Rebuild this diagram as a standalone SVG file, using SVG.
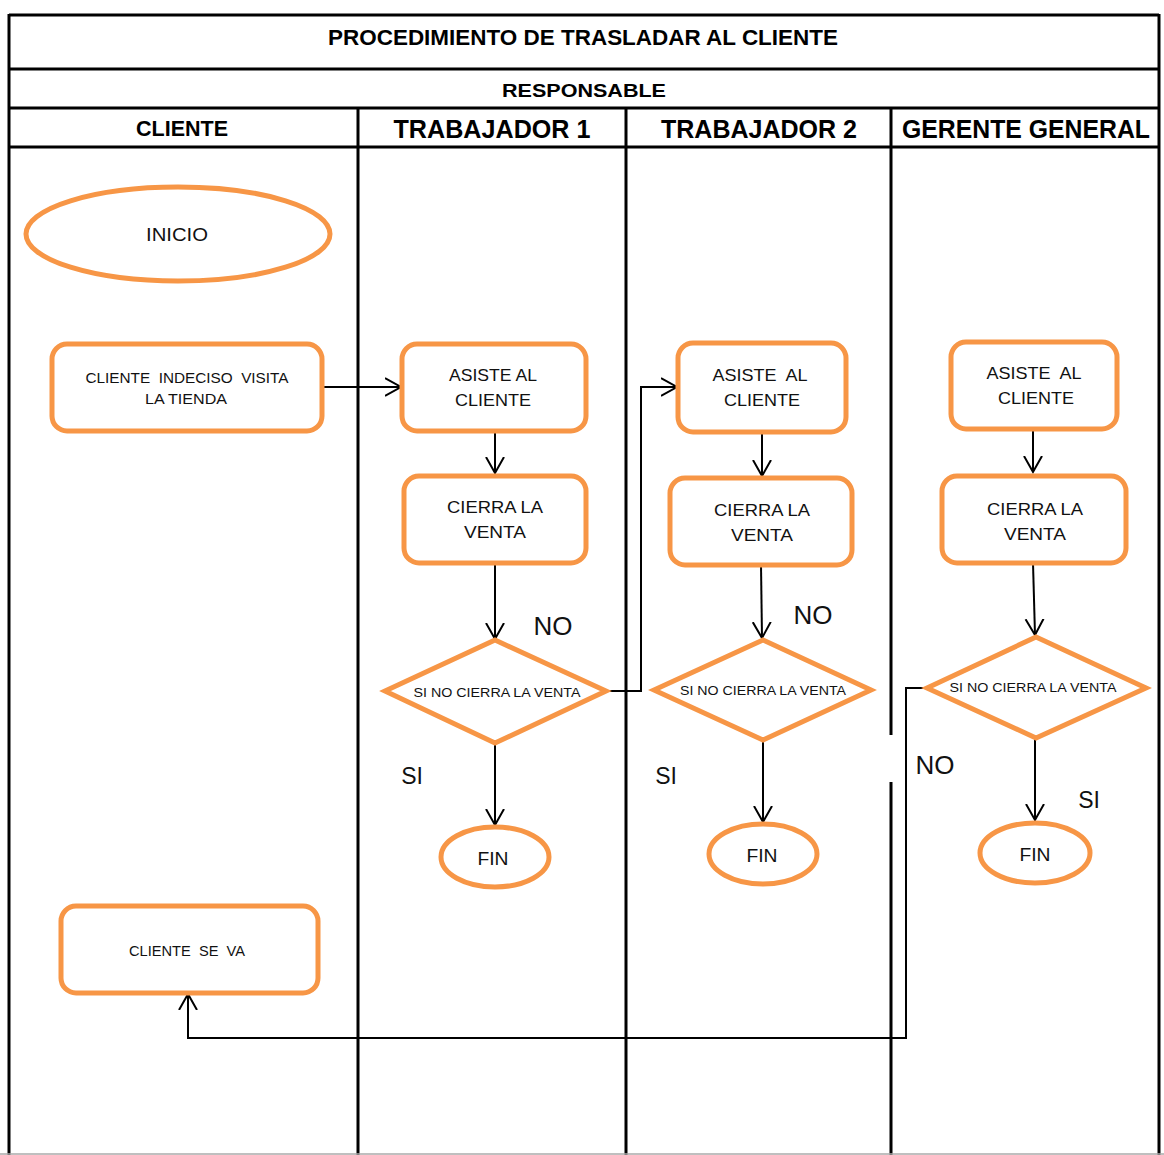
<svg xmlns="http://www.w3.org/2000/svg" width="1164" height="1155" viewBox="0 0 1164 1155">
  <style>
    .grid { stroke: #000; stroke-width: 3; fill: none; }
    .hdr { font-family: "Liberation Sans", Arial, sans-serif; font-weight: bold; fill: #000; text-anchor: middle; }
    .box { fill: #fff; stroke: #F79646; stroke-width: 5; }
    .lbl { font-family: "Liberation Sans", Arial, sans-serif; fill: #111; text-anchor: middle; }
    .con { fill: none; stroke: #000; stroke-width: 2; }
  </style>
  <defs>
    <marker id="arrow" markerUnits="userSpaceOnUse" markerWidth="20" markerHeight="22" refX="16" refY="10" orient="auto">
      <path d="M0,1 L16,10 L0,19" fill="none" stroke="#000" stroke-width="2"/>
    </marker>
  </defs>
  <rect width="1164" height="1155" fill="#fff"/>

  <!-- swimlane table -->
  <g id="table">
    <line class="grid" x1="9" y1="15" x2="1159" y2="15"/>
    <line class="grid" x1="9" y1="69" x2="1159" y2="69"/>
    <line class="grid" x1="9" y1="108" x2="1159" y2="108"/>
    <line class="grid" x1="9" y1="147" x2="1159" y2="147"/>
    <line class="grid" x1="9" y1="14" x2="9" y2="1155"/>
    <line class="grid" x1="1159" y1="14" x2="1159" y2="1155"/>
    <line class="grid" x1="358" y1="108" x2="358" y2="1155"/>
    <line class="grid" x1="626" y1="108" x2="626" y2="1155"/>
    <line class="grid" x1="891" y1="108" x2="891" y2="735"/>
    <line class="grid" x1="891" y1="782" x2="891" y2="1155"/>
    <line x1="0" y1="1154" x2="1164" y2="1154" stroke="#aaa" stroke-width="1.5"/>
    <text class="hdr" x="583" y="45" font-size="22" textLength="510" lengthAdjust="spacingAndGlyphs">PROCEDIMIENTO DE TRASLADAR AL CLIENTE</text>
    <text class="hdr" x="584" y="97" font-size="19" textLength="164" lengthAdjust="spacingAndGlyphs">RESPONSABLE</text>
    <text class="hdr" x="182" y="136" font-size="22" textLength="92" lengthAdjust="spacingAndGlyphs">CLIENTE</text>
    <text class="hdr" x="492" y="138" font-size="26" textLength="197" lengthAdjust="spacingAndGlyphs">TRABAJADOR 1</text>
    <text class="hdr" x="759" y="138" font-size="26" textLength="196" lengthAdjust="spacingAndGlyphs">TRABAJADOR 2</text>
    <text class="hdr" x="1026" y="138" font-size="26" textLength="248" lengthAdjust="spacingAndGlyphs">GERENTE GENERAL</text>
  </g>

  <!-- connectors -->
  <g id="connectors">
    <line class="con" x1="322" y1="387" x2="401" y2="387" marker-end="url(#arrow)"/>
    <line class="con" x1="495" y1="431" x2="495" y2="473" marker-end="url(#arrow)"/>
    <line class="con" x1="495" y1="563" x2="495" y2="639" marker-end="url(#arrow)"/>
    <polyline class="con" points="606,691 641,691 641,387 677,387" marker-end="url(#arrow)"/>
    <line class="con" x1="495" y1="743" x2="495" y2="825" marker-end="url(#arrow)"/>
    <line class="con" x1="762" y1="432" x2="762" y2="476" marker-end="url(#arrow)"/>
    <line class="con" x1="761" y1="565" x2="762" y2="638" marker-end="url(#arrow)"/>
    <line class="con" x1="763" y1="740" x2="763" y2="822" marker-end="url(#arrow)"/>
    <line class="con" x1="1033" y1="429" x2="1033" y2="472" marker-end="url(#arrow)"/>
    <line class="con" x1="1033" y1="563" x2="1035" y2="635" marker-end="url(#arrow)"/>
    <line class="con" x1="1035" y1="738" x2="1035" y2="820" marker-end="url(#arrow)"/>
    <polyline class="con" points="927,688 906,688 906,1038 188,1038 188,994" marker-end="url(#arrow)"/>
    <text class="lbl" x="553" y="635" font-size="26">NO</text>
    <text class="lbl" x="412" y="784" font-size="23">SI</text>
    <text class="lbl" x="813" y="624" font-size="26">NO</text>
    <text class="lbl" x="666" y="784" font-size="23">SI</text>
    <text class="lbl" x="935" y="774" font-size="26">NO</text>
    <text class="lbl" x="1089" y="808" font-size="23">SI</text>
  </g>

  <!-- CLIENTE lane -->
  <g id="inicio">
    <ellipse class="box" cx="178" cy="234" rx="152" ry="47"/>
    <text class="lbl" x="177" y="241" font-size="18" textLength="62" lengthAdjust="spacingAndGlyphs">INICIO</text>
  </g>
  <g id="cliente-visita">
    <rect class="box" x="52" y="344" width="270" height="87" rx="15"/>
    <text class="lbl" x="187" y="383" font-size="14" xml:space="preserve" textLength="203" lengthAdjust="spacingAndGlyphs">CLIENTE  INDECISO  VISITA</text>
    <text class="lbl" x="186" y="404" font-size="14" textLength="82" lengthAdjust="spacingAndGlyphs">LA TIENDA</text>
  </g>
  <g id="cliente-se-va">
    <rect class="box" x="61" y="906" width="257" height="87" rx="15"/>
    <text class="lbl" x="187" y="956" font-size="15" xml:space="preserve" textLength="116" lengthAdjust="spacingAndGlyphs">CLIENTE  SE  VA</text>
  </g>

  <!-- TRABAJADOR 1 lane -->
  <g id="t1-asiste">
    <rect class="box" x="402" y="344" width="184" height="87" rx="15"/>
    <text class="lbl" x="493" y="381" font-size="17" textLength="88" lengthAdjust="spacingAndGlyphs">ASISTE AL</text>
    <text class="lbl" x="493" y="406" font-size="17" textLength="76" lengthAdjust="spacingAndGlyphs">CLIENTE</text>
  </g>
  <g id="t1-cierra">
    <rect class="box" x="404" y="476" width="182" height="87" rx="15"/>
    <text class="lbl" x="495" y="513" font-size="17" textLength="96" lengthAdjust="spacingAndGlyphs">CIERRA LA</text>
    <text class="lbl" x="495" y="538" font-size="17" textLength="62" lengthAdjust="spacingAndGlyphs">VENTA</text>
  </g>
  <g id="t1-decision">
    <polygon class="box" points="385,691 495,640 606,691 495,743"/>
    <text class="lbl" x="497" y="697" font-size="13" textLength="167" lengthAdjust="spacingAndGlyphs">SI NO CIERRA LA VENTA</text>
  </g>
  <g id="t1-fin">
    <ellipse class="box" cx="495" cy="857" rx="54" ry="30"/>
    <text class="lbl" x="493" y="865" font-size="18" textLength="31" lengthAdjust="spacingAndGlyphs">FIN</text>
  </g>

  <!-- TRABAJADOR 2 lane -->
  <g id="t2-asiste">
    <rect class="box" x="678" y="343" width="168" height="89" rx="15"/>
    <text class="lbl" x="760" y="381" font-size="17" xml:space="preserve" textLength="95" lengthAdjust="spacingAndGlyphs">ASISTE  AL</text>
    <text class="lbl" x="762" y="406" font-size="17" textLength="76" lengthAdjust="spacingAndGlyphs">CLIENTE</text>
  </g>
  <g id="t2-cierra">
    <rect class="box" x="670" y="478" width="182" height="87" rx="15"/>
    <text class="lbl" x="762" y="516" font-size="17" textLength="96" lengthAdjust="spacingAndGlyphs">CIERRA LA</text>
    <text class="lbl" x="762" y="541" font-size="17" textLength="62" lengthAdjust="spacingAndGlyphs">VENTA</text>
  </g>
  <g id="t2-decision">
    <polygon class="box" points="654,690 763,640 871,690 763,740"/>
    <text class="lbl" x="763" y="695" font-size="13" textLength="166" lengthAdjust="spacingAndGlyphs">SI NO CIERRA LA VENTA</text>
  </g>
  <g id="t2-fin">
    <ellipse class="box" cx="763" cy="854" rx="54" ry="30"/>
    <text class="lbl" x="762" y="862" font-size="18" textLength="31" lengthAdjust="spacingAndGlyphs">FIN</text>
  </g>

  <!-- GERENTE GENERAL lane -->
  <g id="gg-asiste">
    <rect class="box" x="951" y="342" width="166" height="87" rx="15"/>
    <text class="lbl" x="1034" y="379" font-size="17" xml:space="preserve" textLength="95" lengthAdjust="spacingAndGlyphs">ASISTE  AL</text>
    <text class="lbl" x="1036" y="404" font-size="17" textLength="76" lengthAdjust="spacingAndGlyphs">CLIENTE</text>
  </g>
  <g id="gg-cierra">
    <rect class="box" x="942" y="476" width="184" height="87" rx="15"/>
    <text class="lbl" x="1035" y="515" font-size="17" textLength="96" lengthAdjust="spacingAndGlyphs">CIERRA LA</text>
    <text class="lbl" x="1035" y="540" font-size="17" textLength="62" lengthAdjust="spacingAndGlyphs">VENTA</text>
  </g>
  <g id="gg-decision">
    <polygon class="box" points="927,688 1036,637 1146,688 1036,738"/>
    <text class="lbl" x="1033" y="692" font-size="13" textLength="167" lengthAdjust="spacingAndGlyphs">SI NO CIERRA LA VENTA</text>
  </g>
  <g id="gg-fin">
    <ellipse class="box" cx="1035" cy="853" rx="55" ry="30"/>
    <text class="lbl" x="1035" y="861" font-size="18" textLength="31" lengthAdjust="spacingAndGlyphs">FIN</text>
  </g>
</svg>
